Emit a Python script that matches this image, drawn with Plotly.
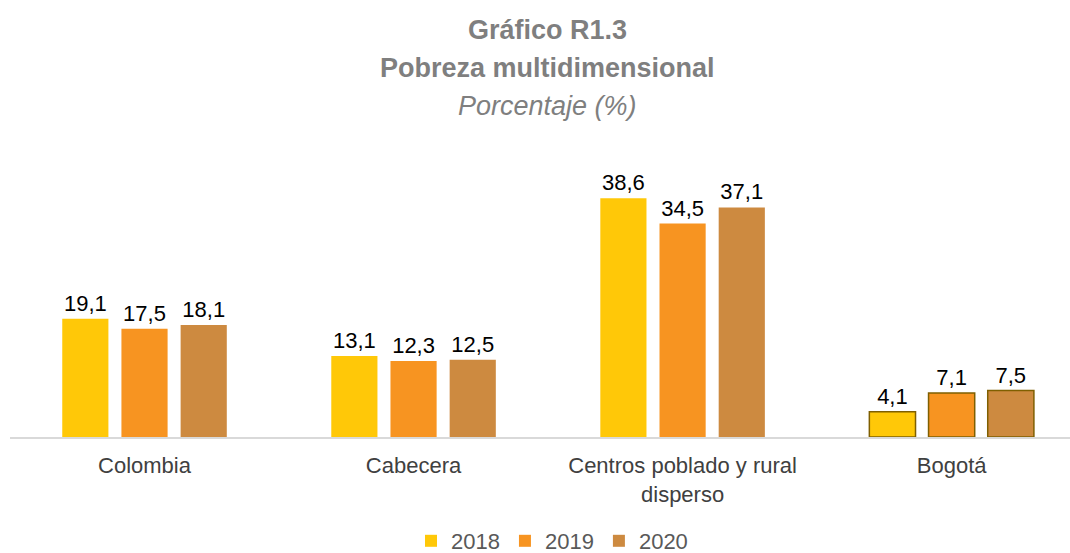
import plotly.graph_objects as go

categories = ["Colombia", "Cabecera", "Centros poblado y rural<br>disperso", "Bogotá"]
years = ["2018", "2019", "2020"]
v2018 = [19.1, 13.1, 38.6, 4.1]
v2019 = [17.5, 12.3, 34.5, 7.1]
v2020 = [18.1, 12.5, 37.1, 7.5]
series = [v2018, v2019, v2020]
colors = ["#FFC808", "#F79421", "#CD8A40"]
outline = "#7F5F00"

W, H = 1070, 553
ML, MT, MB = 10, 140, 116

fig = go.Figure()
for name, vals, col in zip(years, series, colors):
    fig.add_trace(go.Bar(
        x=list(range(len(categories))), y=vals, name=name,
        marker=dict(color=col,
                    line=dict(color=[outline if c == "Bogotá" else col for c in categories],
                              width=[1.5 if c == "Bogotá" else 0 for c in categories])),
        texttemplate="%{y:.1f}", textposition="outside",
        textfont=dict(family="Liberation Sans, Arial", size=22, color="#000000"),
        cliponaxis=False,
    ))

plot_h = H - MT - MB
fig.update_layout(
    width=W, height=H,
    margin=dict(l=ML, r=0, t=MT, b=MB, autoexpand=False),
    paper_bgcolor="white", plot_bgcolor="white",
    barmode="group", bargap=0.34, bargroupgap=0.22,
    separators=",.",
    font=dict(family="Liberation Sans, Arial", color="#404040"),
    xaxis=dict(tickmode="array", tickvals=list(range(len(categories))), ticktext=categories,
               range=[-0.5, 3.44], showline=True, linecolor="#D9D9D9", linewidth=2,
               showgrid=False, zeroline=False, ticks="", ticklabelstandoff=8,
               tickfont=dict(size=22, color="#404040")),
    yaxis=dict(range=[0, 48], visible=False),
    showlegend=True,
    legend=dict(orientation="h", x=(552 - ML) / (W - ML), xanchor="center",
                y=-(541 - (H - MB)) / plot_h, yanchor="middle",
                font=dict(size=22, color="#595959"), itemwidth=30, traceorder="normal"),
)

for text, ypx in [("<b>Gráfico R1.3</b>", 30), ("<b>Pobreza multidimensional</b>", 68),
                  ("<i>Porcentaje (%)</i>", 106)]:
    fig.add_annotation(text=text, xref="paper", yref="paper", showarrow=False,
                       x=(547 - ML) / (W - ML), y=(H - MB - ypx) / plot_h,
                       xanchor="center", yanchor="middle",
                       font=dict(size=27, color="#7F7F7F"))

fig.write_html("out.html", config={"displayModeBar": False},
               post_script="document.body.style.margin='0px';")
